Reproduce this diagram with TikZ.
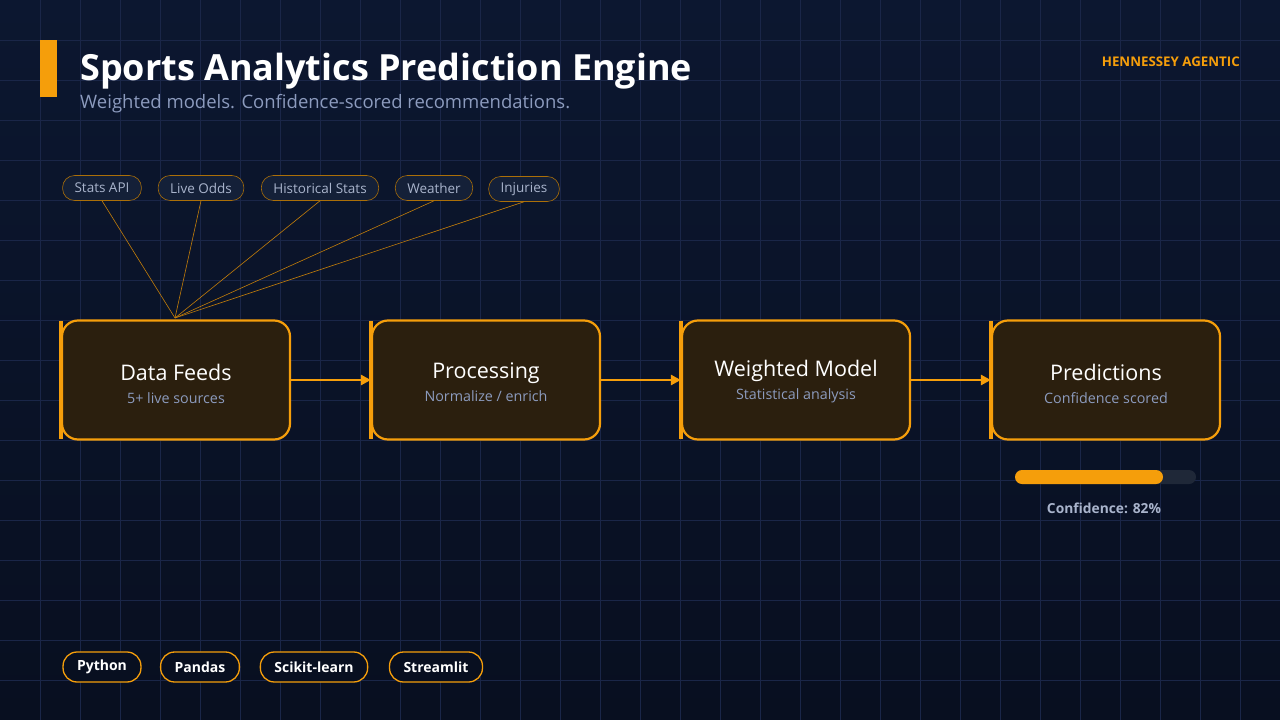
\documentclass[tikz,border=0pt]{standalone}
\usepackage{fontspec}
\setmainfont{Open Sans}
\usetikzlibrary{arrows.meta}
\definecolor{bgtop}{HTML}{0C1730}
\definecolor{bgbot}{HTML}{080F20}
\definecolor{gridc}{HTML}{1A2648}
\definecolor{org}{HTML}{F59E0B}
\definecolor{boxf}{HTML}{2B1F0E}
\definecolor{sub}{HTML}{8C9BBE}
\definecolor{pilltxt}{HTML}{A9B4CC}
\definecolor{pillf}{HTML}{142038}
\definecolor{track}{HTML}{1F2838}
\begin{document}
\begin{tikzpicture}[x=1pt,y=-1pt,
  stage/.style={draw=org,line width=2.2pt,fill=boxf,rounded corners=16pt,minimum width=228pt,minimum height=119pt},
  stxt/.style={align=center,text=white,font=\fontsize{21.5}{24}\selectfont},
  src/.style={draw=org!70!black,line width=0.6pt,fill=pillf,rounded corners=12pt,minimum height=25pt,inner xsep=12pt,text=pilltxt,font=\fontsize{13.5}{15}\selectfont},
  tech/.style={draw=org,line width=1.3pt,fill=bgbot,rounded corners=14pt,minimum height=30pt,inner xsep=14pt,text=white,font=\fontsize{14}{16}\selectfont},
  feed/.style={org!80!black,line width=0.6pt},
  flow/.style={org,line width=2.5pt,-{Triangle[length=10pt,width=10pt]}}]
\useasboundingbox (0,0) rectangle (1280,720);
\shade[top color=bgtop,bottom color=bgbot] (0,0) rectangle (1280,720);
\foreach \x in {40,80,...,1240} \draw[gridc,line width=0.8pt] (\x,0) -- (\x,720);
\foreach \y in {40,80,...,680} \draw[gridc,line width=0.8pt] (0,\y) -- (1280,\y);
\fill[org] (40,40) rectangle (57,97);
\node[anchor=base west,text=white,font=\fontsize{36}{40}\selectfont\bfseries,inner xsep=0pt] (title) at (80,80) {Sports Analytics Prediction Engine};
\node[anchor=base west,text=sub,font=\fontsize{18.5}{21}\selectfont,inner xsep=0pt] (subt) at (80,108) {Weighted models. Confidence-scored recommendations.};
\node[anchor=base east,text=org,font=\fontsize{13.3}{15}\selectfont\bfseries,inner xsep=0pt] (brand) at (1240,66) {HENNESSEY AGENTIC};
% stages
\node[stage] (df) at (176,380) {};
\node[stage] (pr) at (486,380) {};
\node[stage] (wm) at (796,380) {};
\node[stage] (pd) at (1106,380) {};
\node[stxt] (dft) at (176,384) {Data Feeds\\[-1pt]{\fontsize{14.3}{16}\selectfont\color{sub}5+ live sources}};
\node[stxt] (prt) at (486,382) {Processing\\[-1pt]{\fontsize{14.3}{16}\selectfont\color{sub}Normalize / enrich}};
\node[stxt] (wmt) at (796,382) {Weighted Model\\[-1pt]{\fontsize{14.3}{16}\selectfont\color{sub}Statistical analysis}};
\node[stxt] (pdt) at (1106,384) {Predictions\\[-1pt]{\fontsize{14.3}{16}\selectfont\color{sub}Confidence scored}};
\foreach \n in {df,pr,wm,pd} \draw[org,line width=4.5pt] ([yshift=-2pt]\n.north west) -- ([yshift=2pt]\n.south west);
\draw[flow] (df.east) -- (pr.west);
\draw[flow] (pr.east) -- (wm.west);
\draw[flow] (wm.east) -- (pd.west);
% sources
\coordinate (hub) at (175,318);
\node[src] (s1) at (102,188) {Stats API};
\node[src] (s2) at (201,188) {Live Odds};
\node[src] (s3) at (320,188) {Historical Stats};
\node[src] (s4) at (434,188) {Weather};
\node[src] (s5) at (524,189) {Injuries};
\foreach \s in {s1,s2,s3,s4,s5} \draw[feed] (\s.south) -- (hub);
% confidence
\fill[track,rounded corners=7pt] (1015,470) rectangle (1196,484);
\fill[org,rounded corners=7pt] (1015,470) rectangle (1163,484);
\node[text=pilltxt,font=\fontsize{13.8}{15}\selectfont\bfseries] (conf) at (1104,508) {Confidence: 82\%};
% tech
\node[tech] (t1) at (102,667) {\textbf{Python}};
\node[tech] (t2) at (200,667) {\textbf{Pandas}};
\node[tech] (t3) at (314,667) {\textbf{Scikit-learn}};
\node[tech] (t4) at (436,667) {\textbf{Streamlit}};
\end{tikzpicture}
\end{document}
